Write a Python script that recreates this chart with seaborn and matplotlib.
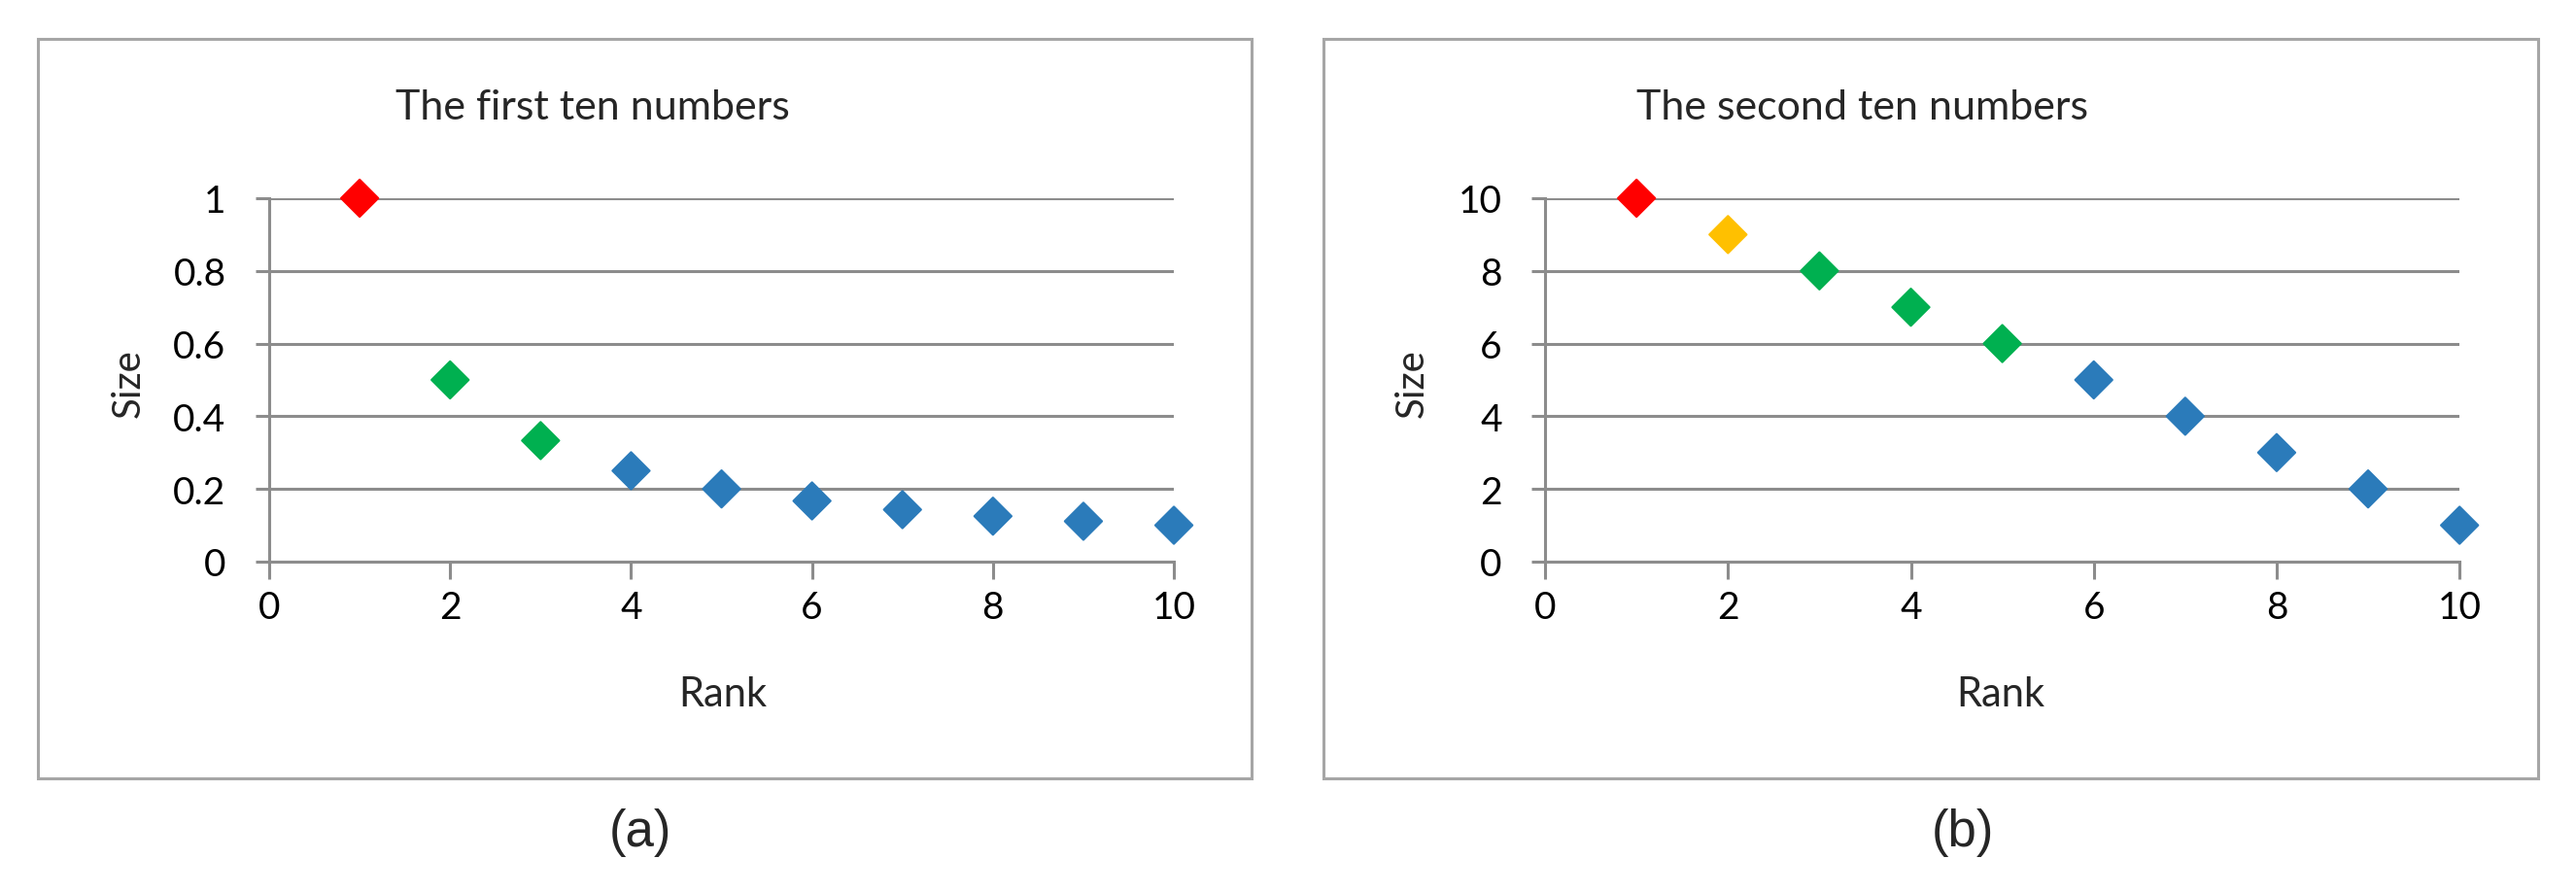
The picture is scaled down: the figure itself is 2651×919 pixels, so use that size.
import matplotlib
matplotlib.use('Agg')
import matplotlib.pyplot as plt
import seaborn as sns
import pandas as pd
from matplotlib.patches import Rectangle

# ── Data ─────────────────────────────────────────────────────
rank = [1, 2, 3, 4, 5, 6, 7, 8, 9, 10]
first_sizes = [1, 0.5, 0.333, 0.25, 0.2, 0.167, 0.143, 0.125, 0.111, 0.1]
second_sizes = [10, 9, 8, 7, 6, 5, 4, 3, 2, 1]
first_groups = ['top', 'mid', 'mid', 'low', 'low', 'low', 'low', 'low', 'low', 'low']
second_groups = ['top', 'second', 'mid', 'mid', 'mid', 'low', 'low', 'low', 'low', 'low']

first_xticks = [0, 2, 4, 6, 8, 10]
first_yticks = [0, 0.2, 0.4, 0.6, 0.8, 1]
first_ylabels = ['0', '0.2', '0.4', '0.6', '0.8', '1']
second_yticks = [0, 2, 4, 6, 8, 10]

titles = ['The first ten numbers', 'The second ten numbers']
panel_tags = ['(a)', '(b)']

palette = {'top': '#FF0000', 'second': '#FFC000', 'mid': '#00B050', 'low': '#2B7BBA'}
GRID = '#8C8C8C'
BOX = '#A6A6A6'

sns.set_theme(style='white')
plt.rcParams['font.family'] = ['Lato', 'DejaVu Sans']

fig = plt.figure(figsize=(26.51, 9.2), dpi=100)
fig.patch.set_facecolor('white')

# panel frames
for x0 in [0.0147, 0.5138]:
    fig.patches.append(Rectangle((x0, 0.1283), 0.4713, 0.8272, transform=fig.transFigure,
                                 fill=False, edgecolor=BOX, linewidth=2.2))

ax_a = fig.add_axes([0.1045, 0.3707, 0.3512, 0.4065])
ax_b = fig.add_axes([0.5998, 0.3707, 0.3550, 0.4065])

df_a = pd.DataFrame({'Rank': rank, 'Size': first_sizes, 'group': first_groups})
df_b = pd.DataFrame({'Rank': rank, 'Size': second_sizes, 'group': second_groups})

for ax, df, yticks, ylim in [(ax_a, df_a, first_yticks, 1), (ax_b, df_b, second_yticks, 10)]:
    sns.scatterplot(data=df, x='Rank', y='Size', hue='group', palette=palette,
                    marker='D', s=380, linewidth=1.5, edgecolor=None,
                    legend=False, ax=ax, clip_on=False, zorder=5)
    ax.set_xlim(0, 10)
    ax.set_ylim(0, ylim)
    ax.set_xticks(first_xticks)
    ax.set_yticks(yticks)
    ax.set_xlabel('')
    ax.set_ylabel('')
    ax.yaxis.grid(True, color=GRID, linewidth=2.2)
    ax.xaxis.grid(False)
    ax.set_axisbelow(True)
    for s in ['top', 'right']:
        ax.spines[s].set_visible(False)
    for s in ['left', 'bottom']:
        ax.spines[s].set_color(GRID)
        ax.spines[s].set_linewidth(2.2)
    ax.tick_params(axis='x', bottom=True, length=13, width=2.2, color=GRID,
                   pad=8, labelsize=28, labelcolor='black')
    ax.tick_params(axis='y', left=True, length=10, width=2.2, color=GRID,
                   pad=22, labelsize=28, labelcolor='black')

ax_a.set_yticklabels(first_ylabels)

# titles, axis labels, panel tags
for cx_title, cx_rank, cx_size, cx_tag, title, tag in [
        (0.2301, 0.2806, 0.0498, 0.2486, titles[0], panel_tags[0]),
        (0.7228, 0.7767, 0.5481, 0.7620, titles[1], panel_tags[1])]:
    fig.text(cx_title, 0.8793, title, ha='center', va='center', fontsize=31)
    fig.text(cx_rank, 0.2228, 'Rank', ha='center', va='center', fontsize=30)
    fig.text(cx_size, 0.5707, 'Size', ha='center', va='center', fontsize=29, rotation=90)
    fig.text(cx_tag, 0.0685, tag, ha='center', va='center', fontsize=38,
             family=['Liberation Sans', 'DejaVu Sans'])

fig.savefig('out.png', dpi=100, facecolor='white')
